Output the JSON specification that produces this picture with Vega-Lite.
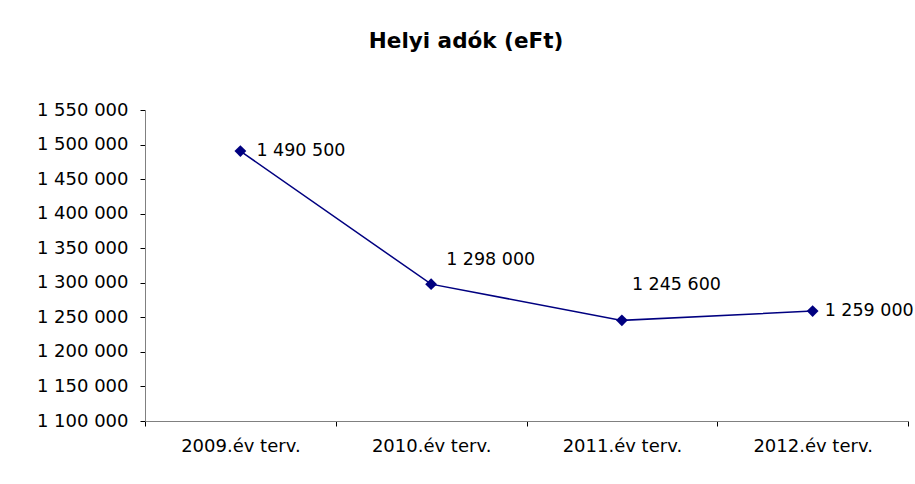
{
  "$schema": "https://vega.github.io/schema/vega-lite/v6.json",
  "width": 763,
  "height": 311,
  "autosize": {"type": "none"},
  "padding": {"left": 145, "top": 110, "right": 7, "bottom": 63},
  "background": "#ffffff",
  "config": {
    "locale": {"number": {"decimal": ",", "thousands": " ", "grouping": [3], "currency": ["", ""]}},
    "view": {"stroke": null},
    "font": "DejaVu Sans"
  },
  "title": {
    "text": "Helyi adók (eFt)",
    "font": "DejaVu Sans",
    "fontSize": 21.5,
    "fontWeight": "bold",
    "color": "#000000",
    "anchor": "middle",
    "frame": "bounds",
    "offset": 49,
    "dx": -9
  },
  "data": {
    "values": [
      {"ev": "2009.év terv.", "ertek": 1490500},
      {"ev": "2010.év terv.", "ertek": 1298000},
      {"ev": "2011.év terv.", "ertek": 1245600},
      {"ev": "2012.év terv.", "ertek": 1259000}
    ]
  },
  "encoding": {
    "x": {
      "field": "ev",
      "type": "nominal",
      "sort": null,
      "scale": {"type": "band", "paddingInner": 0, "paddingOuter": 0},
      "axis": {
        "title": null,
        "labelAngle": 0,
        "tickBand": "extent",
        "tickSize": 5,
        "labelPadding": 11,
        "labelFont": "DejaVu Sans",
        "labelFontSize": 18,
        "labelColor": "#000000",
        "domainColor": "#808080",
        "tickColor": "#000000"
      }
    },
    "y": {
      "field": "ertek",
      "type": "quantitative",
      "scale": {"domain": [1100000, 1550000], "zero": false, "nice": false},
      "axis": {
        "title": null,
        "values": [1100000, 1150000, 1200000, 1250000, 1300000, 1350000, 1400000, 1450000, 1500000, 1550000],
        "format": ",d",
        "grid": false,
        "tickSize": 5,
        "labelPadding": 12,
        "labelFont": "DejaVu Sans",
        "labelFontSize": 18,
        "labelColor": "#000000",
        "domainColor": "#808080",
        "tickColor": "#000000"
      }
    }
  },
  "layer": [
    {
      "mark": {
        "type": "line",
        "color": "#000080",
        "strokeWidth": 1.5,
        "point": {"shape": "diamond", "filled": true, "size": 140, "color": "#000080"}
      }
    },
    {
      "transform": [{"filter": "datum.ev == '2009.év terv.'"}],
      "mark": {"type": "text", "align": "left", "baseline": "middle", "dx": 16, "font": "DejaVu Sans", "fontSize": 17.5, "color": "#000000"},
      "encoding": {"text": {"field": "ertek", "type": "quantitative", "format": ",d"}}
    },
    {
      "transform": [{"filter": "datum.ev == '2012.év terv.'"}],
      "mark": {"type": "text", "align": "left", "baseline": "middle", "dx": 12, "font": "DejaVu Sans", "fontSize": 17.5, "color": "#000000"},
      "encoding": {"text": {"field": "ertek", "type": "quantitative", "format": ",d"}}
    },
    {
      "transform": [{"filter": "datum.ev == '2010.év terv.'"}],
      "mark": {"type": "text", "align": "left", "baseline": "middle", "dx": 15, "dy": -24, "font": "DejaVu Sans", "fontSize": 17.5, "color": "#000000"},
      "encoding": {"text": {"field": "ertek", "type": "quantitative", "format": ",d"}}
    },
    {
      "transform": [{"filter": "datum.ev == '2011.év terv.'"}],
      "mark": {"type": "text", "align": "left", "baseline": "middle", "dx": 10, "dy": -35, "font": "DejaVu Sans", "fontSize": 17.5, "color": "#000000"},
      "encoding": {"text": {"field": "ertek", "type": "quantitative", "format": ",d"}}
    }
  ]
}
